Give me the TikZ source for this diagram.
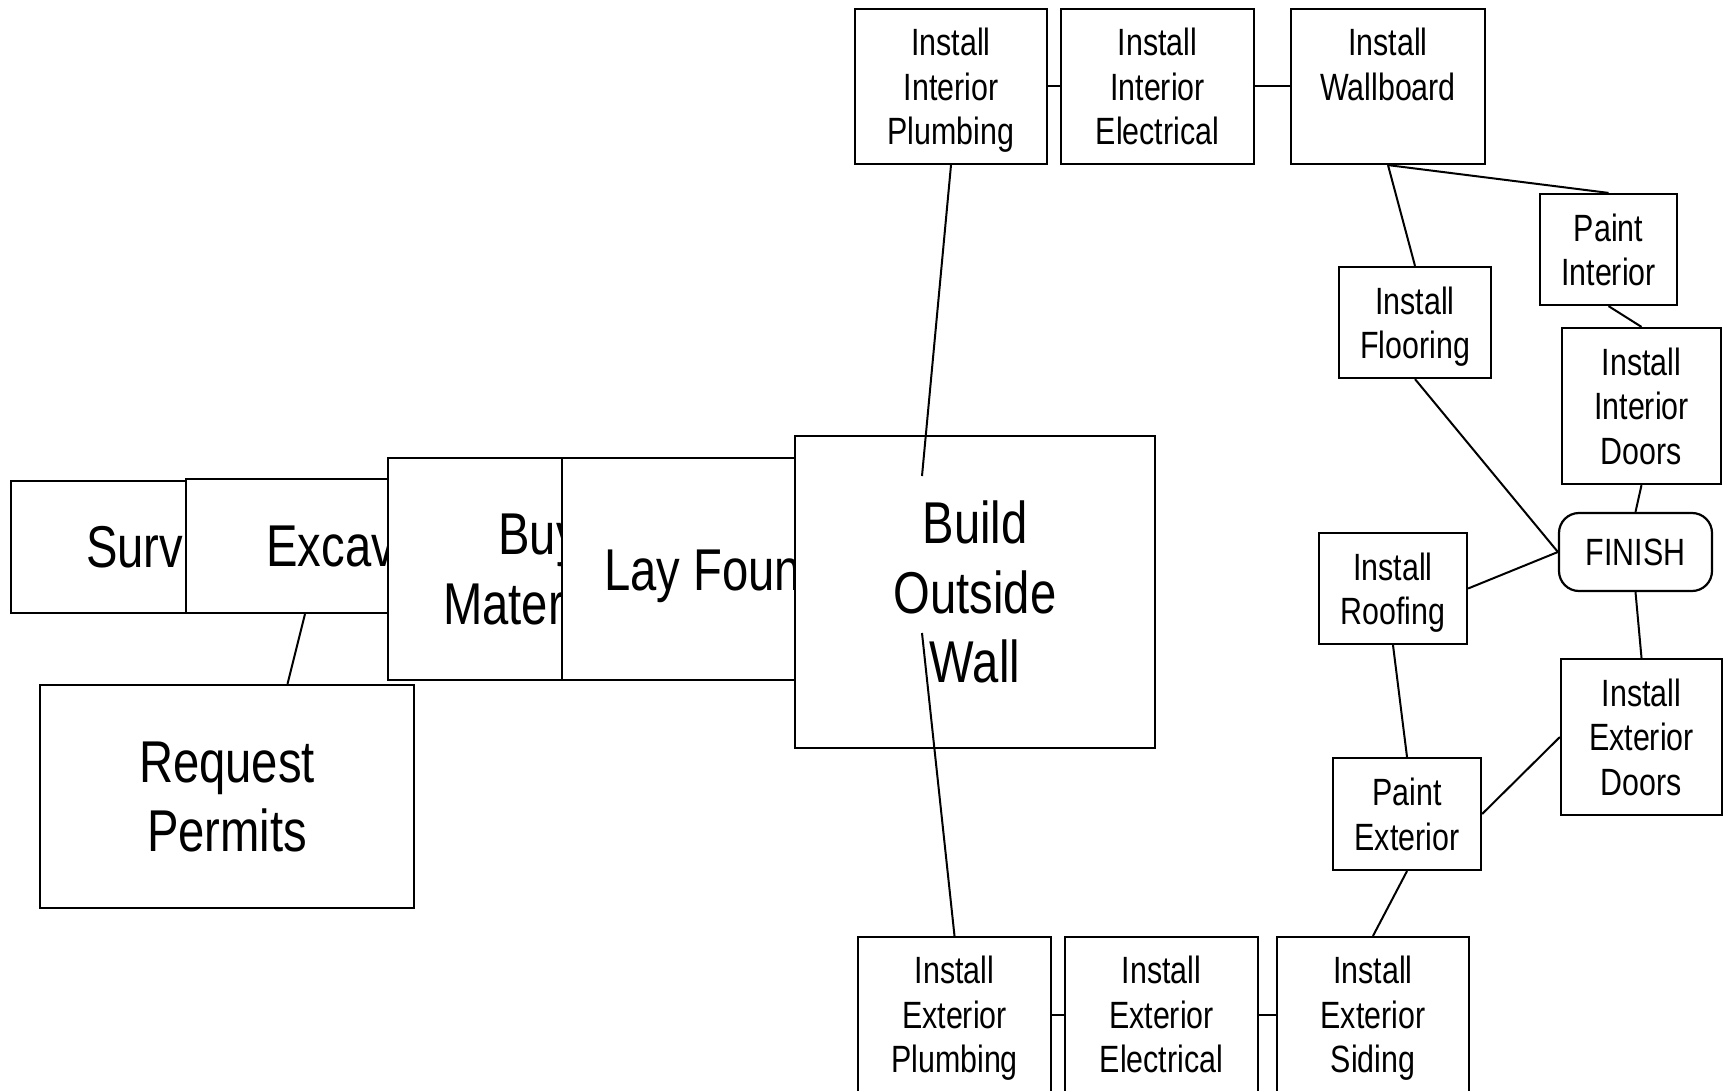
\documentclass[tikz,border=0pt]{standalone}
\usepackage{fontspec}
\setmainfont{Liberation Sans}[FakeStretch=0.8]
\begin{document}
\begin{tikzpicture}[x=1pt,y=-1pt,
    box/.style={draw,fill=white,line width=2.2pt,inner sep=0pt,align=center,text depth=0pt},
    task/.style={box,font=\fontsize{38}{44.5}\selectfont},
    stage/.style={box,font=\fontsize{59}{69.5}\selectfont},
    link/.style={line width=2pt}
]
\path[fill=white,use as bounding box] (0,0) rectangle (1727,1091);

\node[stage,minimum width=297pt,minimum height=132pt] (sur) at (159.5,547) {Survey};
\node[stage,minimum width=355pt,minimum height=134pt] (exc) at (363.5,546) {Excavate};
\node[stage,minimum width=374pt,minimum height=223pt] (req) at (227,796.5) {Request\\Permits};
\node[stage,minimum width=302pt,minimum height=222pt] (buy) at (539,569) {Buy\\Materials};
\node[stage,minimum width=410pt,minimum height=222pt] (lay) at (767,569) {Lay Foundation};
\node[stage,minimum width=360pt,minimum height=312pt] (bow) at (975,592) {Build\\Outside\\Wall};

\node[task,minimum width=192pt,minimum height=155pt] (ipl) at (951,86.5) {Install\\Interior\\Plumbing};
\node[task,minimum width=193pt,minimum height=155pt] (iel) at (1157.5,86.5) {Install\\Interior\\Electrical};
\node[task,minimum width=194pt,minimum height=155pt] (iwb) at (1388,86.5) {Install\\Wallboard\\\strut};
\node[task,minimum width=137pt,minimum height=111pt] (pin) at (1608.5,249.5) {Paint\\Interior};
\node[task,minimum width=152pt,minimum height=111pt] (ifl) at (1415,322.5) {Install\\Flooring};
\node[task,minimum width=159pt,minimum height=156pt] (idr) at (1641.5,406) {Install\\Interior\\Doors};
\node[task,rounded corners=20pt,minimum width=153pt,minimum height=78pt] (fin) at (1635.5,552) {FINISH};
\node[task,minimum width=148pt,minimum height=111pt] (irf) at (1393,588.5) {Install\\Roofing};
\node[task,minimum width=161pt,minimum height=156pt] (exd) at (1641.5,737) {Install\\Exterior\\Doors};
\node[task,minimum width=148pt,minimum height=112pt] (pex) at (1407,814) {Paint\\Exterior};
\node[task,minimum width=193pt,minimum height=155pt] (epl) at (954.5,1014.5) {Install\\Exterior\\Plumbing};
\node[task,minimum width=193pt,minimum height=155pt] (eel) at (1161.5,1014.5) {Install\\Exterior\\Electrical};
\node[task,minimum width=192pt,minimum height=155pt] (esd) at (1373,1014.5) {Install\\Exterior\\Siding};

\coordinate (bowtop) at ([xshift=-53pt,yshift=116pt]bow.center);
\coordinate (bowbot) at ([xshift=-53pt,yshift=-41pt]bow.center);

\draw[link] ([xshift=-58.5pt]exc.south)--([xshift=60.5pt]req.north);
\draw[link] (ipl.south)--(bowtop);
\draw[link] (bowbot)--(epl.north);
\draw[link] (ipl.east)--(iel.west);
\draw[link] (iel.east)--(iwb.west);
\draw[link] (iwb.south)--(ifl.north);
\draw[link] (iwb.south)--(pin.north);
\draw[link] (pin.south)--(idr.north);
\draw[link] (ifl.south)--(fin.west);
\draw[link] (irf.east)--(fin.west);
\draw[link] (idr.south)--(fin.north);
\draw[link] (fin.south)--(exd.north);
\draw[link] (irf.south)--(pex.north);
\draw[link] (pex.east)--(exd.west);
\draw[link] (pex.south)--(esd.north);
\draw[link] (epl.east)--(eel.west);
\draw[link] (eel.east)--(esd.west);
\end{tikzpicture}
\end{document}
